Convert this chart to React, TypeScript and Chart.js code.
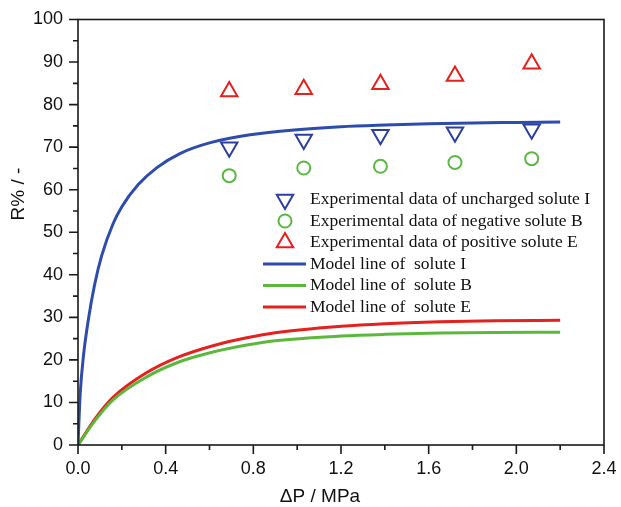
import React, { useEffect, useRef } from 'react';
import { Chart, registerables } from 'chart.js';

Chart.register(...registerables);

// Experimental pressure values (MPa)
const expX = [0.69, 1.03, 1.38, 1.72, 2.07];
const unchargedI = [70.0, 71.8, 72.9, 73.5, 74.2];
const negativeB = [63.3, 65.1, 65.5, 66.4, 67.3];
const positiveE = [83.1, 83.6, 84.8, 86.7, 89.6];

// Model lines
const modelXI = [0, 0.01, 0.025, 0.047, 0.075, 0.108, 0.16, 0.2, 0.275, 0.36, 0.465, 0.6, 0.785, 1.0, 1.2, 1.4, 1.6, 1.8, 2.0, 2.2];
const modelI = [0, 12, 21, 29.4, 37.5, 44.5, 52.0, 56.0, 61.2, 65.2, 68.5, 71.0, 72.9, 74.1, 74.8, 75.2, 75.5, 75.7, 75.8, 75.9];
const modelXBE = [0, 0.08, 0.16, 0.31, 0.46, 0.62, 0.77, 0.9, 1.2, 1.4, 1.65, 1.9, 2.2];
const modelB = [0, 5.9, 10.6, 15.9, 19.5, 21.9, 23.5, 24.5, 25.6, 26.0, 26.3, 26.45, 26.5];
const modelE = [0, 6.3, 11.2, 16.9, 20.7, 23.4, 25.2, 26.4, 27.9, 28.5, 28.95, 29.2, 29.3];

const labels = [
  'Experimental data of uncharged solute I',
  'Experimental data of negative solute B',
  'Experimental data of positive solute E',
  'Model line of  solute I',
  'Model line of  solute B',
  'Model line of  solute E',
];

const xTitle = '\u0394P / MPa';
const yTitle = 'R% / -';

const BLUE = '#2e4cab';
const BLUE_M = '#2c3f9c';
const GREEN = '#5cb83c';
const GREEN_M = '#5bb844';
const RED = '#e3211f';

const SANS = '"Liberation Sans", Arial, sans-serif';
const SERIF = '"Liberation Serif", "Times New Roman", serif';

const pts = (xs: number[], ys: number[]) => xs.map((x, i) => ({ x, y: ys[i] }));

function drawMarker(ctx: CanvasRenderingContext2D, style: string, rot: number, x: number, y: number, r: number) {
  ctx.beginPath();
  if (style === 'circle') {
    ctx.arc(x, y, r, 0, Math.PI * 2);
  } else {
    const rad = (rot * Math.PI) / 180;
    for (let k = 0; k < 3; k++) {
      const a = rad + (k * 2 * Math.PI) / 3;
      const px = x + Math.sin(a) * r;
      const py = y - Math.cos(a) * r;
      if (k === 0) ctx.moveTo(px, py);
      else ctx.lineTo(px, py);
    }
    ctx.closePath();
  }
  ctx.stroke();
}

const framePlugin = {
  id: 'framePlugin',
  afterDraw(chart: any) {
    const ctx: CanvasRenderingContext2D = chart.ctx;
    const { left, right, top, bottom } = chart.chartArea;
    const xs = chart.scales.x;
    const ys = chart.scales.y;
    ctx.save();
    ctx.strokeStyle = '#1a1a1a';
    ctx.lineWidth = 1.6;
    ctx.strokeRect(left, top, right - left, bottom - top);
    ctx.beginPath();
    for (let i = 0; i <= 12; i++) {
      const px = xs.getPixelForValue(i * 0.2);
      const len = i % 2 === 0 ? 9 : 5;
      ctx.moveTo(px, bottom);
      ctx.lineTo(px, bottom + len);
    }
    for (let i = 0; i <= 20; i++) {
      const py = ys.getPixelForValue(i * 5);
      const len = i % 2 === 0 ? 9 : 5;
      ctx.moveTo(left, py);
      ctx.lineTo(left - len, py);
    }
    ctx.stroke();

    // axis titles
    ctx.fillStyle = '#111';
    ctx.font = `19px ${SANS}`;
    ctx.textAlign = 'center';
    ctx.textBaseline = 'middle';
    ctx.fillText(xTitle, 320, 497);
    ctx.save();
    ctx.translate(19, 194);
    ctx.rotate(-Math.PI / 2);
    ctx.fillText(yTitle, 0, 0);
    ctx.restore();

    // legend
    const lx = 285;
    const ty0 = 199.5;
    const step = 21.5;
    ctx.font = `17.5px ${SERIF}`;
    ctx.textAlign = 'left';
    ctx.textBaseline = 'middle';
    chart.data.datasets.forEach((ds: any, i: number) => {
      const y = ty0 + i * step;
      if (ds.showLine) {
        ctx.strokeStyle = ds.borderColor;
        ctx.lineWidth = 3;
        ctx.beginPath();
        ctx.moveTo(263, y);
        ctx.lineTo(306, y);
        ctx.stroke();
      } else {
        ctx.strokeStyle = ds.pointBorderColor;
        ctx.lineWidth = ds.pointBorderWidth;
        drawMarker(ctx, ds.pointStyle, ds.pointRotation || 0, lx, y, ds.pointRadius);
      }
      ctx.fillStyle = '#111';
      ctx.fillText(ds.label, 310, y);
    });
    ctx.restore();
  },
};

export default function App() {
  const ref = useRef<HTMLCanvasElement>(null);
  useEffect(() => {
    const canvas = ref.current!;
    const pointDs = (label: string, ys: number[], color: string, style: string, rot: number, r: number) => ({
      label,
      data: pts(expX, ys),
      showLine: false,
      pointStyle: style,
      pointRotation: rot,
      pointRadius: r,
      pointHoverRadius: r,
      pointBorderWidth: 2,
      pointBorderColor: color,
      pointBackgroundColor: 'rgba(0,0,0,0)',
      borderColor: color,
      backgroundColor: 'rgba(0,0,0,0)',
    });
    const lineDs = (label: string, xs: number[], ys: number[], color: string) => ({
      label,
      data: pts(xs, ys),
      showLine: true,
      borderColor: color,
      backgroundColor: color,
      borderWidth: 3,
      pointRadius: 0,
      pointHoverRadius: 0,
      cubicInterpolationMode: 'monotone',
      fill: false,
    });
    const chart = new Chart(canvas, {
      type: 'scatter',
      data: {
        datasets: [
          pointDs(labels[0], unchargedI, BLUE_M, 'triangle', 180, 9.5),
          pointDs(labels[1], negativeB, GREEN_M, 'circle', 0, 6.5),
          pointDs(labels[2], positiveE, RED, 'triangle', 0, 9.5),
          lineDs(labels[3], modelXI, modelI, BLUE),
          lineDs(labels[4], modelXBE, modelB, GREEN),
          lineDs(labels[5], modelXBE, modelE, RED),
        ] as any,
      },
      options: {
        responsive: false,
        animation: false,
        layout: { padding: { left: 0, right: 17, top: 19.5, bottom: 0 } },
        plugins: { legend: { display: false }, tooltip: { enabled: false } },
        scales: {
          x: {
            type: 'linear',
            min: 0,
            max: 2.4,
            grid: { display: false, drawTicks: false },
            border: { display: false },
            ticks: {
              stepSize: 0.4,
              padding: 13,
              color: '#111',
              font: { family: SANS, size: 18 },
              callback: (v: any) => Number(v).toFixed(1),
            },
            afterFit: (s: any) => {
              s.height = 62;
              s.paddingLeft = 0;
              s.paddingRight = 0;
            },
          },
          y: {
            type: 'linear',
            min: 0,
            max: 100,
            grid: { display: false, drawTicks: false },
            border: { display: false },
            ticks: {
              stepSize: 10,
              padding: 15,
              color: '#111',
              font: { family: SANS, size: 18 },
            },
            afterFit: (s: any) => {
              s.width = 78;
              s.paddingTop = 0;
              s.paddingBottom = 0;
            },
          },
        },
      },
      plugins: [framePlugin],
    } as any);
    return () => chart.destroy();
  }, []);
  return (
    <div style={{ position: 'fixed', left: 0, top: 0, width: 621, height: 507, background: '#fff' }}>
      <canvas ref={ref} width={621} height={507} />
    </div>
  );
}
